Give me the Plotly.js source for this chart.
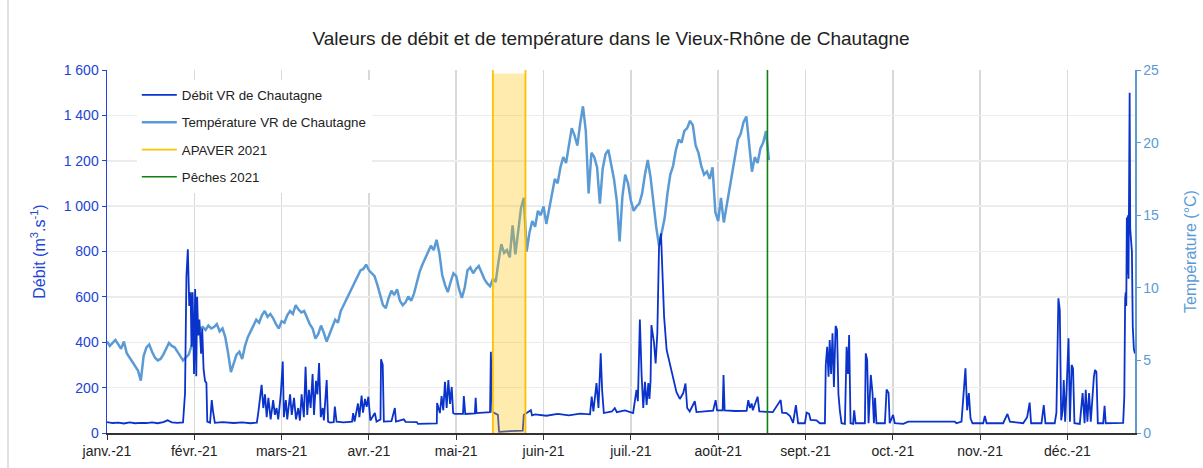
<!DOCTYPE html>
<html>
<head>
<meta charset="utf-8">
<script src="https://cdn.plot.ly/plotly-3.0.1.min.js"></script>
<style>
  html, body { margin: 0; padding: 0; background: #ffffff; }
  #chart { width: 1203px; height: 468px; }
</style>
</head>
<body>
<div id="chart"></div>
<script>
// ---------- DATA ----------
// Tick positions (Excel axis: major unit 31 days) and labels
const tickDates = ['2021-01-01','2021-02-01','2021-03-04','2021-04-04','2021-05-05','2021-06-05',
                   '2021-07-06','2021-08-06','2021-09-06','2021-10-07','2021-11-07','2021-12-08'];
const tickLabels = ['janv.-21','févr.-21','mars-21','avr.-21','mai-21','juin-21',
                    'juil.-21','août-21','sept.-21','oct.-21','nov.-21','déc.-21'];

// Température VR de Chautagne (°C), one value per day from 2021-01-01
const tempStart = '2021-01-01';
const tempValues = [
  6.3,6.0,6.2,6.4,6.1,5.8,6.3,5.5,5.2,4.9,4.6,4.3,3.6,5.3,5.9,6.1,5.6,5.2,5.0,5.1,5.4,5.8,6.2,6.0,5.9,5.6,5.3,5.0,5.2,5.4,6.0,
  6.5,6.9,7.2,7.3,7.1,7.4,7.2,7.3,7.5,7.0,7.2,6.6,5.5,4.2,4.8,5.4,5.6,5.1,6.0,6.6,7.0,7.4,7.8,7.6,8.1,8.4,8.0,8.2,7.9,
  7.5,7.2,7.7,7.6,8.1,8.4,8.2,8.8,8.5,8.3,8.4,7.9,7.5,7.2,6.5,6.8,7.4,6.9,6.3,6.8,7.3,7.8,7.6,8.4,8.8,9.2,9.5,9.9,10.3,10.8,11.2,
  11.3,11.6,11.2,11.0,10.8,10.2,9.4,8.8,8.6,9.3,9.8,9.5,9.9,9.1,8.8,9.0,9.4,9.1,9.6,10.4,11.1,11.6,12.0,12.5,12.9,12.6,13.3,12.4,10.9,10.2,9.7,
  10.4,11.0,10.8,9.9,9.3,10.0,11.2,11.4,11.0,11.3,11.5,11.0,10.6,10.3,10.1,10.6,10.4,11.8,13.0,12.4,12.6,12.1,14.3,12.3,13.8,15.5,16.2,12.5,13.8,14.6,14.2,15.3,
  15.0,15.6,14.4,15.4,16.4,17.5,17.2,18.3,19.0,18.6,19.8,21.0,20.5,19.8,21.3,22.5,20.8,16.5,19.3,19.0,18.3,15.8,18.2,19.2,19.5,18.6,17.5,16.0,13.2,16.3,
  17.8,17.2,16.0,15.3,15.6,15.8,16.5,17.8,18.8,17.6,15.8,14.2,12.9,13.8,14.8,16.5,17.8,18.4,19.5,20.2,20.0,20.8,21.0,21.5,21.2,19.8,19.3,18.4,17.8,18.0,17.5,18.3,
  15.2,14.6,16.2,14.5,15.7,16.6,17.8,19.3,20.2,20.6,21.4,21.8,20.0,18.0,19.0,18.6,19.6,20.0,20.8,18.8
];

// Débit VR de Chautagne (m3/s): day of year 2021 (0 = 1 Jan) and value
const debitDays = [
  0,2,4,6,8,10,12,14,16,18,20,21.5,23,25,27.0,
  27.7,28.2,28.7,29.2,29.7,30.0,30.4,30.9,31.3,31.7,32.0,32.4,32.8,33.4,33.8,34.3,34.8,35.3,35.6,36.6,37.2,37.6,38.0,38.3,
  41,45,48,51,53.2,
  53.7,54.9,55.5,56.1,56.7,57.3,58.1,59.0,59.6,60.2,60.8,61.7,62.4,62.8,63.5,64.0,65.0,65.6,66.4,67.1,67.9,68.5,69.1,69.9,
  70.5,71.1,71.7,72.3,73.0,73.5,74.2,74.7,75.3,75.9,76.6,77.0,78.0,78.5,79.2,80.5,80.9,81.5,84,87.0,87.4,87.9,89.1,89.6,
  90.4,90.9,91.6,92.2,92.8,93.5,95.1,95.7,97.1,97.3,97.9,98.3,101,102.2,102.6,105.4,106,110.0,110.4,114,
  117.1,117.2,118.2,118.8,119.4,120.0,120.6,121.2,121.8,122.4,122.9,123.5,126.4,126.7,127.2,130.6,130.9,131.2,133,
  136.0,136.3,136.8,138.8,139.2,143.1,147.6,148.0,150.5,150.9,152,156,160,164,168,
  171.5,172.1,172.7,173.8,174.5,175.3,175.8,176.4,179.3,180.3,181.0,183.9,186.8,
  188.0,188.5,189.2,189.8,190.4,191.0,191.6,192.2,192.6,193.0,193.3,194.2,194.8,195.4,196.0,196.7,197.3,197.8,198.7,
  199.9,201.0,202.2,203.4,204.6,205.4,206.0,206.9,208.7,209.3,215.2,216.1,216.6,218.6,218.9,219.3,223,
  227.1,227.7,228.3,228.9,229.3,231.0,231.6,236.4,239.2,239.7,241.3,242.5,243.6,244.6,245.4,
  247.8,248.4,249.3,249.8,251.9,253.1,254.9,255.2,255.7,256.2,256.6,257.1,257.6,258.1,258.7,259.2,259.7,260.2,260.8,
  262.0,262.6,263.1,263.5,264.0,264.9,265.3,265.8,269.1,269.4,269.9,270.4,271.2,271.8,272.3,272.7,273.2,
  276.2,276.8,277.5,277.9,279.1,279.7,282.7,284.5,301.0,301.6,303.4,304.8,305.4,306.0,306.6,307.3,
  311.1,311.7,312.3,318.2,319.7,320.6,325.3,326.7,327.6,328.1,331.8,332.6,333.2,
  336.5,337.1,337.8,338.3,338.8,339.3,339.7,340.2,340.7,341.4,341.9,342.5,343.0,343.5,345.4,
  346.4,347.1,347.5,348.1,348.7,349.3,349.9,350.4,350.8,351.3,351.8,353.7,354.2,354.6,
  360.8,361.2,361.5,361.7,361.9,362.1,362.3,362.5,362.7,362.9,363.1,363.3,363.6,363.9,364.2,364.6,365.0
];
const debitValues = [
  48,44,46,42,47,43,45,44,47,43,48,56,47,45,47,
  175,690,810,560,620,380,620,260,635,250,600,430,500,350,460,280,230,220,50,45,145,100,60,45,
  48,44,47,43,46,
  88,212,110,170,70,155,60,145,80,110,60,170,315,70,145,60,170,80,155,60,110,55,170,70,
  292,80,190,110,260,80,230,170,308,70,110,55,233,50,46,48,116,50,47,50,88,50,130,70,
  165,90,150,115,160,55,88,50,60,325,300,50,52,110,50,60,49,48,40,41,
  42,132,88,163,100,226,110,233,128,203,88,84,84,163,84,86,155,88,90,
  92,358,93,80,5,8,10,80,100,78,82,76,84,78,85,
  82,160,95,220,110,351,189,88,95,110,92,100,88,
  190,140,500,260,110,226,124,220,150,230,476,400,307,440,821,880,645,513,366,
  300,233,180,150,176,218,110,95,140,92,98,145,100,100,256,100,97,
  98,145,110,130,100,160,95,92,145,90,88,75,45,123,43,
  43,90,84,58,56,43,43,300,380,248,410,260,440,203,472,455,172,100,43,
  40,380,260,432,43,40,100,43,43,351,322,43,256,176,43,155,43,
  43,192,176,43,80,43,40,50,50,43,50,285,100,176,65,43,
  43,75,43,43,84,50,43,70,134,43,43,123,43,
  43,90,594,542,56,100,233,50,190,417,50,300,285,43,40,
  176,43,190,50,176,50,190,248,278,270,43,43,120,43,
  45,160,590,620,560,950,700,960,680,1390,1500,900,850,800,470,370,350
];

// Événements
const apaverPeriod = ['2021-05-18 00:00', '2021-05-29 14:00'];
const apaverTop = 1585;
const pechesDate = '2021-08-23 12:00';

// ---------- BUILD ----------
const DAY = 86400000;
const base = Date.UTC(2021, 0, 1);
function dayToDate(d) {
  return new Date(base + d * DAY).toISOString().slice(0, 16).replace('T', ' ');
}
const tempDates = tempValues.map((_, i) => dayToDate(i));
const debitDates = debitDays.map(dayToDate);

const blue = '#0a33cc';
const blueText = '#2244d6';
const lightBlue = '#5b9bd5';
const font = 'Liberation Sans, Arial, sans-serif';

const traces = [
  {
    x: debitDates, y: debitValues, type: 'scatter', mode: 'lines',
    name: 'Débit VR de Chautagne', yaxis: 'y2',
    line: { color: blue, width: 1.8 }, legendgroup: 'a'
  },
  {
    x: tempDates, y: tempValues, type: 'scatter', mode: 'lines',
    name: 'Température VR de Chautagne', yaxis: 'y',
    line: { color: lightBlue, width: 2.5 }, legendgroup: 'b'
  },
  {
    x: [apaverPeriod[0], apaverPeriod[0], null, apaverPeriod[1], apaverPeriod[1]],
    y: [0, 1600, null, 0, 1600], type: 'scatter', mode: 'lines',
    name: 'APAVER 2021', yaxis: 'y2', connectgaps: false,
    line: { color: '#ffc000', width: 1.8 }, legendgroup: 'c'
  },
  {
    x: [pechesDate, pechesDate], y: [0, 1600], type: 'scatter', mode: 'lines',
    name: 'Pêches 2021', yaxis: 'y2',
    line: { color: '#108010', width: 1.6 }, legendgroup: 'd'
  }
];

const layout = {
  width: 1203, height: 468,
  margin: { l: 107, r: 68, t: 70, b: 35 },
  paper_bgcolor: '#ffffff', plot_bgcolor: '#ffffff',
  separators: ', ',
  font: { family: font, size: 14, color: '#222222' },
  title: {
    text: 'Valeurs de débit et de température dans le Vieux-Rhône de Chautagne',
    font: { family: font, size: 19, color: '#222222' },
    x: 0.508, xanchor: 'center', y: 0.919, yanchor: 'middle', yref: 'container'
  },
  showlegend: true,
  legend: {
    x: 0.029, y: 0.973, xanchor: 'left', yanchor: 'top',
    bgcolor: '#ffffff', borderwidth: 0, itemwidth: 35,
    font: { family: font, size: 13.3, color: '#222222' },
    traceorder: 'grouped', tracegroupgap: 7
  },
  xaxis: {
    type: 'date', range: ['2021-01-01', '2022-01-01'],
    tickvals: tickDates, ticktext: tickLabels,
    showgrid: true, gridcolor: '#d9d9d9', gridwidth: 1.5,
    showline: true, linecolor: '#333333', linewidth: 1.5,
    ticks: 'outside', ticklen: 5, tickcolor: '#333333',
    tickfont: { family: font, size: 14, color: '#222222' },
    zeroline: false, fixedrange: true
  },
  yaxis: {
    range: [0, 25], dtick: 5, side: 'right',
    showgrid: false, zeroline: false,
    showline: true, linecolor: lightBlue, linewidth: 1.5,
    ticks: 'outside', ticklen: 4, tickcolor: lightBlue,
    tickfont: { family: font, size: 14, color: lightBlue },
    title: { text: 'Température (°C)', font: { family: font, size: 16, color: lightBlue }, standoff: 26 }
  },
  yaxis2: {
    range: [0, 1600], dtick: 200, side: 'left', overlaying: 'y',
    tickformat: ',d',
    showgrid: true, gridcolor: '#ececec', gridwidth: 1.5, zeroline: false,
    showline: true, linecolor: blueText, linewidth: 1.5,
    ticks: 'outside', ticklen: 4, tickcolor: blueText,
    tickfont: { family: font, size: 14, color: blueText },
    title: { text: 'Débit (m<sup>3</sup>.s<sup>-1</sup>)', font: { family: font, size: 16, color: blueText }, standoff: 14 }
  },
  shapes: [
    {
      type: 'rect', xref: 'x', yref: 'y2',
      x0: apaverPeriod[0], x1: apaverPeriod[1], y0: 0, y1: apaverTop,
      fillcolor: 'rgba(255,192,0,0.32)', line: { width: 0 }, layer: 'above'
    },
    {
      type: 'line', xref: 'paper', yref: 'paper',
      x0: -0.0963, x1: -0.0963, y0: -0.2, y1: 1.3,
      line: { color: '#d9d9d9', width: 1.5 }
    }
  ]
};

Plotly.newPlot('chart', traces, layout, { staticPlot: true, displayModeBar: false });
</script>
</body>
</html>
